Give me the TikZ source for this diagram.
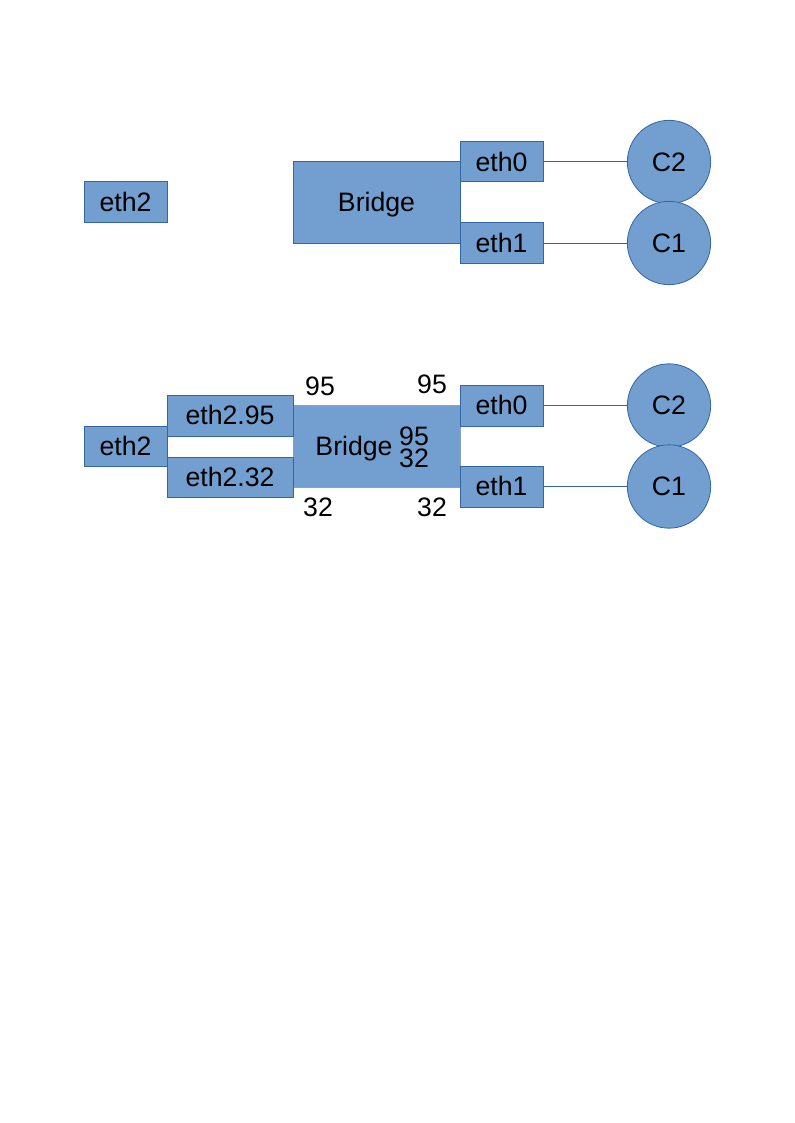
\documentclass[tikz,border=0pt]{standalone}
\usepackage{fontspec}
\setmainfont{Liberation Sans}
\begin{document}
\begin{tikzpicture}[x=0.75pt,y=-0.75pt,
  txt/.style={font=\fontsize{20}{22}\selectfont,text height=18.1pt,text depth=4.24pt},
  box/.style={txt,draw=boxline,fill=boxfill,line width=0.75pt,inner sep=0pt},
  circ/.style={txt,circle,draw=boxline,fill=boxfill,line width=0.6pt,inner sep=0pt,minimum size=62.5pt},
  lbl/.style={txt,inner sep=0pt},
  link/.style={draw=boxline,line width=0.75pt}]
\definecolor{boxfill}{HTML}{729FCF}
\definecolor{boxline}{HTML}{3465A4}
\useasboundingbox (0,0) rectangle (794,1123);
% top diagram
\node[box,minimum width=62.25pt,minimum height=30.75pt] (t2) at (125.5,202.5) {eth2};
\node[box,minimum width=125.25pt,minimum height=60.75pt] (tb) at (376.5,202.5) {Bridge};
\node[box,minimum width=62.25pt,minimum height=30pt] (t0) at (501.5,162) {eth0};
\node[box,minimum width=62.25pt,minimum height=30pt] (t1) at (501.5,243) {eth1};
\node[circ] (tc2) at (669,162) {C2};
\node[circ] (tc1) at (669,243) {C1};
\draw[link] (t0.east) -- (tc2.west);
\draw[link] (t1.east) -- (tc1.west);
% bottom diagram
\node[box,minimum width=62.25pt,minimum height=30pt] (b2) at (125.5,446) {eth2};
\node[box,draw=boxline!60,minimum width=125.25pt,minimum height=61.5pt] (bb) at (376.5,446) {};
\node[box,minimum width=94.5pt,minimum height=30.75pt] (b95) at (230,415.5) {eth2.95};
\node[box,minimum width=94.5pt,minimum height=30pt] (b32) at (230,477) {eth2.32};
\node[box,minimum width=62.25pt,minimum height=30.75pt] (b0) at (501.5,405.5) {eth0};
\node[box,minimum width=62.25pt,minimum height=30.75pt] (b1) at (501.5,486.5) {eth1};
\node[circ] (bc2) at (669,405.5) {C2};
\node[circ] (bc1) at (669,486.5) {C1};
\draw[link] (b0.east) -- (bc2.west);
\draw[link] (b1.east) -- (bc1.west);
\node[lbl] (bl) at (354,446) {Bridge};
\node[inner sep=0pt,align=center,font=\fontsize{20}{16.5}\selectfont] (bi) at (414,447) {95\\32};
\node[lbl] (l1) at (320,386) {95};
\node[lbl] (l2) at (432,384) {95};
\node[lbl] (l3) at (318,507) {32};
\node[lbl] (l4) at (432,507) {32};
\end{tikzpicture}
\end{document}
